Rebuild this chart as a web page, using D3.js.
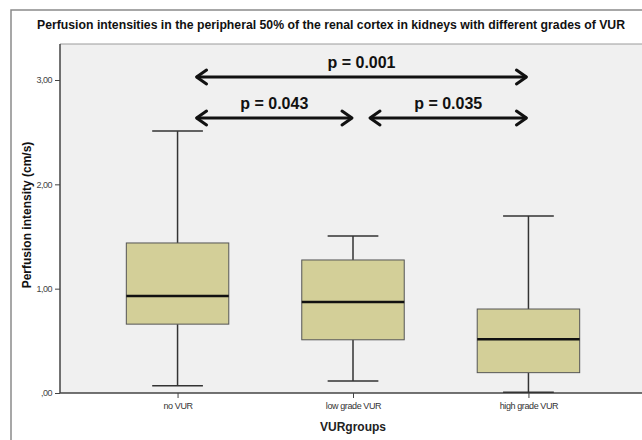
<!DOCTYPE html>
<html>
<head>
<meta charset="utf-8">
<script src="https://cdn.jsdelivr.net/npm/d3@7"></script>
<style>
  html, body { margin: 0; padding: 0; background: #ffffff; overflow: hidden; width: 642px; height: 440px; }
  svg { display: block; overflow: hidden; }
  text { font-family: Arial, "Liberation Sans", sans-serif; }
</style>
</head>
<body>
<svg id="chart" width="642" height="440"></svg>
<script>
// ---- data ----
const categories = ["no VUR", "low grade VUR", "high grade VUR"];
const whiskerLow  = [0.07, 0.115, 0.007];
const q1          = [0.66, 0.51, 0.195];
const median      = [0.93, 0.872, 0.515];
const q3          = [1.438, 1.275, 0.805];
const whiskerHigh = [2.51, 1.505, 1.697];
const yTickValues = [0, 1, 2, 3];
const yTickLabels = [",00", "1,00", "2,00", "3,00"];
const comparisons = [
  { from: 0, to: 2, label: "p = 0.001", level: 1 },
  { from: 0, to: 1, label: "p = 0.043", level: 0 },
  { from: 1, to: 2, label: "p = 0.035", level: 0 }
];
const titleText = "Perfusion intensities in the peripheral 50% of the renal cortex in kidneys with different grades of VUR";
const xTitle = "VURgroups";
const yTitle = "Perfusion intensity (cm/s)";

// ---- layout ----
const W = 642, H = 440;
const plot = { left: 60, right: 646, top: 44, bottom: 393 };
const svg = d3.select("#chart");

const x = d3.scalePoint().domain(categories).range([plot.left, plot.right]).padding(0.67);
const y = d3.scaleLinear().domain([0, 3]).range([plot.bottom, 80]);
const boxW = x.step() * 0.584;
const capW = boxW * 0.495;

// outer frame (only top and left visible)
svg.append("path").attr("d", `M11,${H + 5}V10H${W + 5}`)
  .attr("fill", "none").attr("stroke", "#8a8a8a").attr("stroke-width", 1.5);

// plot background
svg.append("rect").attr("x", plot.left).attr("y", plot.top)
  .attr("width", W - plot.left + 10).attr("height", plot.bottom - plot.top)
  .attr("fill", "#f0f0f0");
svg.append("path").attr("d", `M${plot.left},${plot.top}H${W + 5}`)
  .attr("stroke", "#9a9a9a").attr("stroke-width", 1);

// title
svg.append("text").attr("x", 331).attr("y", 29).attr("text-anchor", "middle")
  .attr("font-size", 12.5).attr("font-weight", "bold").attr("fill", "#111")
  .attr("textLength", 588).attr("lengthAdjust", "spacingAndGlyphs")
  .text(titleText);

// axes
const yAxis = svg.append("g").attr("transform", `translate(${plot.left},0)`)
  .call(d3.axisLeft(y).tickValues(yTickValues).tickSize(5).tickSizeOuter(0)
    .tickFormat((d, i) => yTickLabels[i]));
yAxis.select(".domain").attr("stroke", "#444").attr("stroke-width", 1.5)
  .attr("d", `M0,${plot.bottom}V${plot.top}`);
yAxis.selectAll(".tick line").attr("stroke", "#444");
yAxis.selectAll(".tick text").attr("font-size", 9).attr("fill", "#444")
  .attr("font-family", "Arial, 'Liberation Sans', sans-serif").attr("letter-spacing", -0.5);

const xAxis = svg.append("g").attr("transform", `translate(0,${plot.bottom})`)
  .call(d3.axisBottom(x).tickSize(5).tickSizeOuter(0));
xAxis.select(".domain").attr("stroke", "#444").attr("stroke-width", 1.5)
  .attr("d", `M${plot.left},0H${W + 5}`);
xAxis.selectAll(".tick line").attr("stroke", "#444");
xAxis.selectAll(".tick text").attr("font-size", 9).attr("fill", "#333").attr("dy", "0.9em")
  .attr("font-family", "Arial, 'Liberation Sans', sans-serif").attr("letter-spacing", -0.4);

// axis titles
svg.append("text").attr("x", x(categories[1])).attr("y", 431).attr("text-anchor", "middle")
  .attr("font-size", 12).attr("font-weight", "bold").attr("fill", "#222").text(xTitle);
svg.append("text").attr("transform", "translate(31,215) rotate(-90)").attr("text-anchor", "middle")
  .attr("font-size", 12).attr("font-weight", "bold").attr("fill", "#111").text(yTitle);

// boxes
const rows = categories.map((c, i) => ({
  c, lo: whiskerLow[i], q1: q1[i], med: median[i], q3: q3[i], hi: whiskerHigh[i]
}));
const g = svg.append("g");
const bx = g.selectAll("g.box").data(rows).join("g").attr("class", "box");
bx.append("line").attr("x1", d => x(d.c)).attr("x2", d => x(d.c))
  .attr("y1", d => y(d.hi)).attr("y2", d => y(d.q3)).attr("stroke", "#333").attr("stroke-width", 1.5);
bx.append("line").attr("x1", d => x(d.c)).attr("x2", d => x(d.c))
  .attr("y1", d => y(d.q1)).attr("y2", d => y(d.lo)).attr("stroke", "#333").attr("stroke-width", 1.5);
bx.append("line").attr("x1", d => x(d.c) - capW / 2).attr("x2", d => x(d.c) + capW / 2)
  .attr("y1", d => y(d.hi)).attr("y2", d => y(d.hi)).attr("stroke", "#333").attr("stroke-width", 1.5);
bx.append("line").attr("x1", d => x(d.c) - capW / 2).attr("x2", d => x(d.c) + capW / 2)
  .attr("y1", d => y(d.lo)).attr("y2", d => y(d.lo)).attr("stroke", "#333").attr("stroke-width", 1.5);
bx.append("rect").attr("x", d => x(d.c) - boxW / 2).attr("width", boxW)
  .attr("y", d => y(d.q3)).attr("height", d => y(d.q1) - y(d.q3))
  .attr("fill", "#d3cf98").attr("stroke", "#555").attr("stroke-width", 1);
bx.append("line").attr("x1", d => x(d.c) - boxW / 2).attr("x2", d => x(d.c) + boxW / 2)
  .attr("y1", d => y(d.med)).attr("y2", d => y(d.med)).attr("stroke", "#111").attr("stroke-width", 2.5);

// comparison arrows
const levelY = [118, 77];
const ann = svg.append("g");
comparisons.forEach(cmp => {
  const x1 = cmp.from === 0 ? x(categories[cmp.from]) + 18 : x(categories[cmp.from]) + 16;
  const x2 = cmp.to === 2 ? x(categories[cmp.to]) - 1 : x(categories[cmp.to]);
  const yy = levelY[cmp.level];
  ann.append("line").attr("x1", x1 + 1).attr("x2", x2 - 1).attr("y1", yy).attr("y2", yy)
    .attr("stroke", "#111").attr("stroke-width", 3);
  ann.append("path").attr("d", `M${x1 + 11},${yy - 7}L${x1 + 1},${yy}L${x1 + 11},${yy + 7}`)
    .attr("fill", "none").attr("stroke", "#111").attr("stroke-width", 3)
    .attr("stroke-linecap", "round").attr("stroke-linejoin", "round");
  ann.append("path").attr("d", `M${x2 - 11},${yy - 7}L${x2 - 1},${yy}L${x2 - 11},${yy + 7}`)
    .attr("fill", "none").attr("stroke", "#111").attr("stroke-width", 3)
    .attr("stroke-linecap", "round").attr("stroke-linejoin", "round");
  ann.append("text").attr("x", (x1 + x2) / 2).attr("y", yy - 9).attr("text-anchor", "middle")
    .attr("font-family", "Calibri, Carlito, 'Liberation Sans', Arial, sans-serif")
    .attr("font-size", 16).attr("font-weight", "bold").attr("fill", "#111").text(cmp.label);
});
</script>
</body>
</html>
